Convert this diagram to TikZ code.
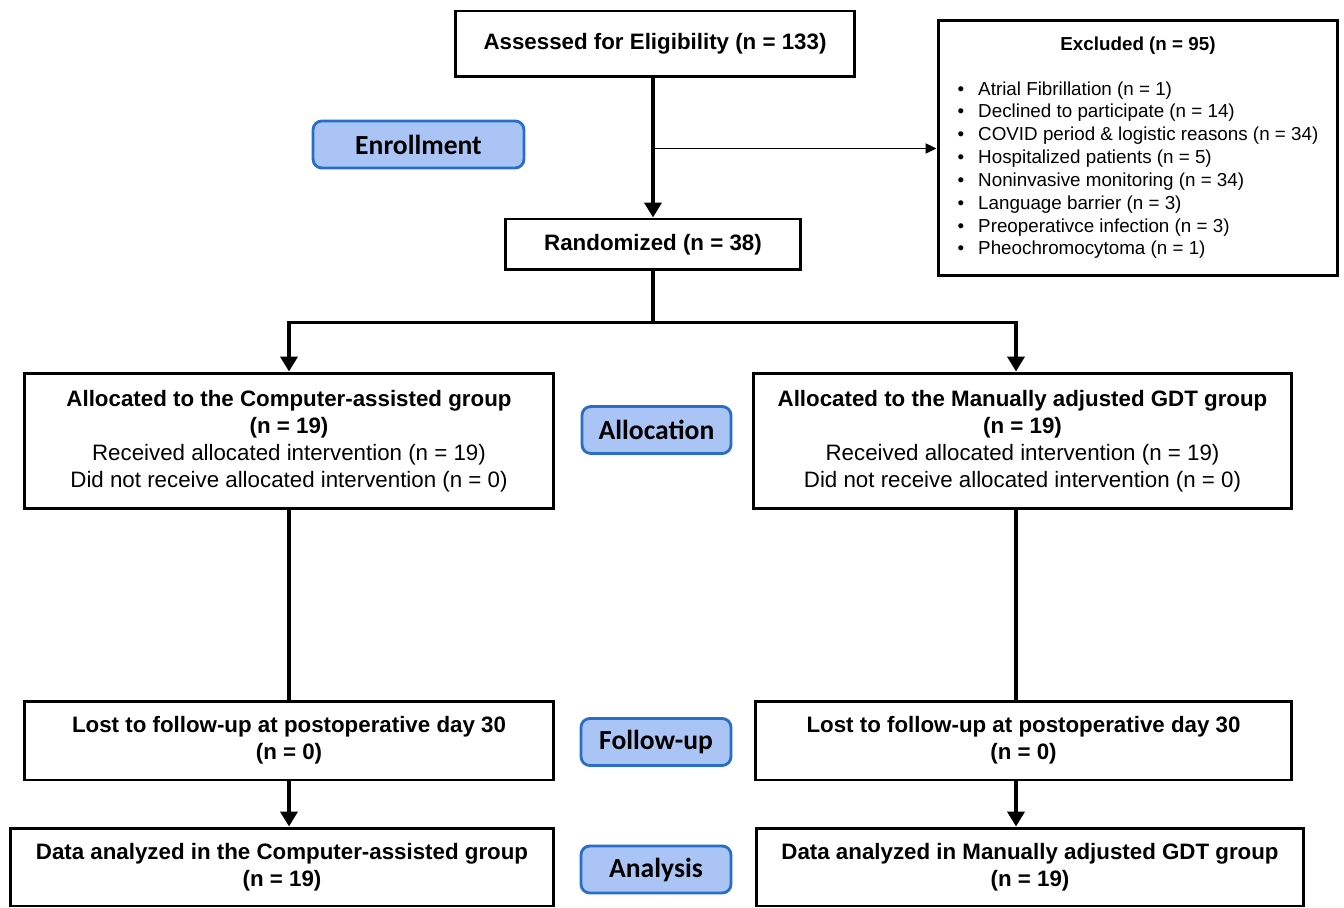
\documentclass[tikz,border=0pt]{standalone}
\usepackage{fontspec}
\setmainfont{Liberation Sans}
\newfontfamily\phasefont{Carlito}
\usetikzlibrary{positioning,arrows.meta}
\definecolor{phasefill}{RGB}{170,197,245}
\definecolor{phaseline}{RGB}{40,110,200}

\begin{document}
\begin{tikzpicture}[
  x=0.02cm, y=-0.02cm,
  box/.style={draw, line width=1.7pt, fill=white, inner sep=0pt, align=center, font=\fontsize{12.7}{15.3}\selectfont},
  smallbox/.style={box, font=\fontsize{10.7}{13}\selectfont},
  phase/.style={draw=phaseline, line width=1.6pt, rounded corners=5pt, fill=phasefill, inner sep=0pt, minimum height=0.94cm, font=\phasefont\bfseries\fontsize{15.7}{18}\selectfont},
  arrow/.style={-{Triangle[length=0.3cm,width=0.34cm]}, line width=2.2pt},
  thinarrow/.style={-{Triangle[length=0.22cm,width=0.2cm]}, line width=1.1pt},
  line/.style={line width=2.2pt}
]
\useasboundingbox (0,0) rectangle (1344,908);

% enrollment
\node[box, minimum width=7.98cm, minimum height=1.32cm] (assess) at (655,44) {\textbf{Assessed for Eligibility (n = 133)}};
\node[smallbox, minimum width=8cm, minimum height=5.12cm] (excl) at (1138,148) {%
  \begin{tabular}{@{}l@{\hspace{0.28cm}}l@{}}
  \multicolumn{2}{c}{\textbf{Excluded (n = 95)}}\\[0.44cm]
  \textbullet & Atrial Fibrillation (n = 1)\\
  \textbullet & Declined to participate (n = 14)\\
  \textbullet & COVID period \& logistic reasons (n = 34)\\
  \textbullet & Hospitalized patients (n = 5)\\
  \textbullet & Noninvasive monitoring (n = 34)\\
  \textbullet & Language barrier (n = 3)\\
  \textbullet & Preoperativce infection (n = 3)\\
  \textbullet & Pheochromocytoma (n = 1)
  \end{tabular}};
\node[phase, minimum width=4.22cm] (enroll) at (418.5,144.5) {Enrollment};
\node[box, minimum width=5.9cm, minimum height=1.02cm] (rand) at (653,244.5) {\textbf{Randomized (n = 38)}};

% allocation
\node[box, minimum width=10.6cm, minimum height=2.72cm] (allocL) at (289,441) {\textbf{Allocated to the Computer-assisted group}\\ \textbf{(n = 19)}\\ Received allocated intervention (n = 19)\\ Did not receive allocated intervention (n = 0)};
\node[phase, minimum width=2.98cm] (alloc) at (656.5,430) {Allocation};
\node[box, minimum width=10.78cm, minimum height=2.72cm] (allocR) at (1022.5,441) {\textbf{Allocated to the Manually adjusted GDT group}\\ \textbf{(n = 19)}\\ Received allocated intervention (n = 19)\\ Did not receive allocated intervention (n = 0)};

% follow-up
\node[box, minimum width=10.6cm, minimum height=1.58cm] (followL) at (289,740.5) {\textbf{Lost to follow-up at postoperative day 30}\\ \textbf{(n = 0)}};
\node[phase, minimum width=3cm] (follow) at (656,742) {Follow-up};
\node[box, minimum width=10.74cm, minimum height=1.58cm] (followR) at (1023.5,740.5) {\textbf{Lost to follow-up at postoperative day 30}\\ \textbf{(n = 0)}};

% analysis
\node[box, minimum width=10.88cm, minimum height=1.56cm] (analysisL) at (282,867) {\textbf{Data analyzed in the Computer-assisted group}\\ \textbf{(n = 19)}};
\node[phase, minimum width=3cm] (analysis) at (656,869.5) {Analysis};
\node[box, minimum width=10.96cm, minimum height=1.56cm] (analysisR) at (1030,867) {\textbf{Data analyzed in Manually adjusted GDT group}\\ \textbf{(n = 19)}};

% connectors
\draw[arrow] ([xshift=-0.04cm]assess.south) -- ([xshift=-0.04cm]assess.south |- rand.north);
\path ([xshift=-0.04cm]assess.south) ++(0,70) coordinate (split);
\draw[thinarrow] (split) -- (split -| excl.west);
\draw[line] (rand.south) -- ++(0,51) coordinate (fork);
\draw[arrow] (fork) -| (allocL.north);
\draw[arrow] (fork) -| ([xshift=-0.13cm]allocR.north);
\draw[line] (allocL.south) -- (followL.north);
\draw[line] ([xshift=-0.13cm]allocR.south) -- ([xshift=-0.13cm]allocR.south |- followR.north);
\draw[arrow] (followL.south) -- (followL.south |- analysisL.north);
\draw[arrow] ([xshift=-0.15cm]followR.south) -- ([xshift=-0.15cm]followR.south |- analysisR.north);
\end{tikzpicture}
\end{document}
